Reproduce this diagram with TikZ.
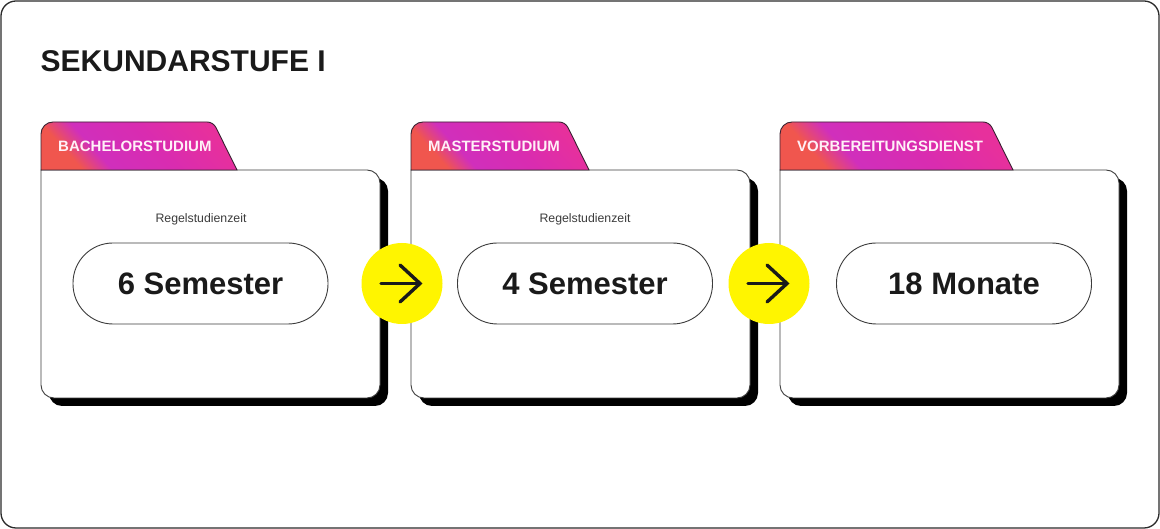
\documentclass[tikz,border=0pt]{standalone}
\usepackage{fontspec}
\setmainfont{Liberation Sans}
\definecolor{coral}{HTML}{F0564E}
\definecolor{magA}{HTML}{D02FBC}
\definecolor{magB}{HTML}{D92CB0}
\definecolor{pinkR}{HTML}{E7309C}
\definecolor{framecol}{HTML}{2B2B2B}
\definecolor{edgecol}{HTML}{3C3C3C}
\definecolor{tabedge}{HTML}{3A2232}
\definecolor{sunny}{HTML}{FFF500}
\definecolor{inkcol}{HTML}{1A1A1A}
\definecolor{tabtextcol}{HTML}{FFF0F7}
\pgfdeclarehorizontalshading{tabshade}{100bp}{color(0bp)=(coral); color(27bp)=(coral); color(36bp)=(magA); color(55bp)=(magB); color(75bp)=(pinkR); color(100bp)=(pinkR)}
\tikzset{
  titletext/.style={font=\bfseries\fontsize{30}{36}\selectfont, text=inkcol, inner sep=0pt},
  tabtext/.style={font=\bfseries\fontsize{15}{18}\selectfont, text=tabtextcol, inner sep=0pt, anchor=west},
  smalltext/.style={font=\fontsize{12.3}{14}\selectfont, text=edgecol, inner sep=0pt},
  pill/.style={draw=edgecol, line width=0.9pt, fill=white, rounded corners=40pt, minimum width=255pt, minimum height=81pt, inner sep=0pt, font=\bfseries\fontsize{31}{36}\selectfont, text=inkcol},
  circ/.style={circle, fill=sunny, minimum size=81pt, inner sep=0pt},
  arr/.style={line width=3.4pt, draw=inkcol, line cap=round, line join=miter},
}
\newcommand\folderbox[4]{%
 \begin{scope}[shift={(#2,359)}]
  \fill[black] (8,-8) -- (334,-8) arc[start angle=90,end angle=0,radius=13] -- (347,-223) arc[start angle=0,end angle=-90,radius=13] -- (21,-236) arc[start angle=270,end angle=180,radius=13] -- cycle;
  \draw[edgecol, line width=0.9pt, fill=white] (0,0) -- (326,0) arc[start angle=90,end angle=0,radius=13] -- (339,-215) arc[start angle=0,end angle=-90,radius=13] -- (13,-228) arc[start angle=270,end angle=180,radius=13] -- cycle;
  \shadedraw[draw=tabedge, line width=0.9pt, shading=tabshade, shading angle=42] (0,0) -- (0,36) arc[start angle=180,end angle=90,radius=12] -- ({#3-30},48) arc[start angle=90,end angle=26.57,radius=10] -- (#3,0) -- cycle;
  \node[tabtext] (#1) at (17,23.5) {#4};
 \end{scope}}
\begin{document}
\begin{tikzpicture}[x=1pt,y=1pt]
\useasboundingbox (0,0) rectangle (1160,529);
\fill[white] (0,0) rectangle (1160,529);
\draw[framecol, line width=1.3pt, rounded corners=15pt] (1,1) rectangle (1159,528);
\node[titletext, anchor=base west] (title) at (40.5,457) {SEKUNDARSTUFE I};

\folderbox{tabA}{41}{196}{BACHELORSTUDIUM}
\folderbox{tabB}{411}{178}{MASTERSTUDIUM}
\folderbox{tabC}{780}{233}{VORBEREITUNGSDIENST}

\node[smalltext, anchor=base] (regA) at (201,306) {Regelstudienzeit};
\node[smalltext, anchor=base] (regB) at (585,306) {Regelstudienzeit};

\node[pill] (pillA) at (200.5,245.5) {6 Semester};
\node[pill] (pillB) at (585,245.5) {4 Semester};
\node[pill] (pillC) at (964,245.5) {18 Monate};

\node[circ] (circA) at (402,245.5) {};
\node[circ] (circB) at (769,245.5) {};
\foreach \c in {circA,circB}{
  \draw[arr] ([xshift=-21pt]\c.center) -- ([xshift=18pt]\c.center);
  \draw[arr] ([xshift=-2pt,yshift=18.5pt]\c.center) -- ([xshift=18pt]\c.center) -- ([xshift=-2pt,yshift=-18.5pt]\c.center);
}
\end{tikzpicture}
\end{document}
